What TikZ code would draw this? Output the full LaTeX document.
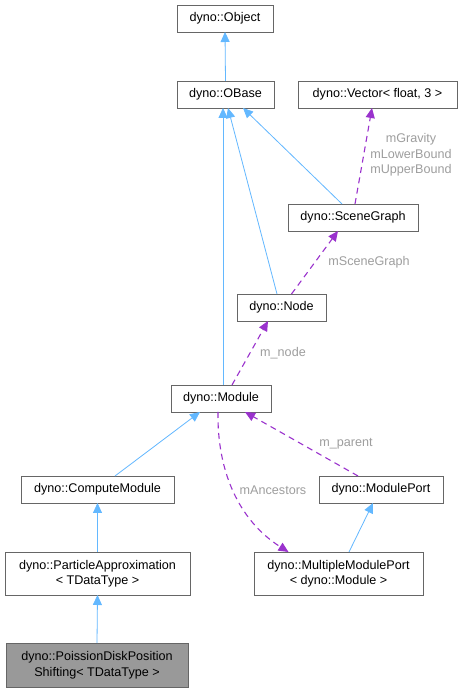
\documentclass[tikz,border=0pt]{standalone}
\usepackage{xcolor}
\usepackage{fontspec}
\setmainfont{Liberation Sans}
\usetikzlibrary{arrows.meta}

\begin{document}
\begin{tikzpicture}[x=1pt,y=1pt,
  cls/.style={draw=boxColor,line width=0.9pt,fill=white,inner sep=0pt,outer sep=0pt,align=center,font=\fontsize{12.6}{15.5}\selectfont},
  inherit/.style={draw=inheritColor,line width=0.8pt,-{Triangle[length=10pt,width=9pt]}},
  usage/.style={draw=usageColor,line width=1.1pt,dash pattern=on 6pt off 4.5pt,-{Triangle[length=10pt,width=9pt]}},
  lbl/.style={text=labelColor,inner sep=0pt,align=center,font=\fontsize{12.6}{15.5}\selectfont}]
\definecolor{fillColor}{RGB}{255,255,255}
\definecolor{boxColor}{RGB}{102,102,102}
\definecolor{grayFill}{RGB}{153,153,153}
\definecolor{inheritColor}{RGB}{99,184,255}
\definecolor{usageColor}{RGB}{154,50,205}
\definecolor{labelColor}{RGB}{158,158,158}
\path[use as bounding box,fill=fillColor] (0,0) rectangle (462,692);

\node[cls,minimum width= 96,minimum height=27] (object) at (225.0,673.5) {dyno::Object};
\node[cls,minimum width= 97,minimum height=27] (obase) at (225.5,597.5) {dyno::OBase};
\node[cls,minimum width=159,minimum height=27] (vector) at (377.5,597.5) {dyno::Vector< float, 3 >};
\node[cls,minimum width=130,minimum height=27] (scenegraph) at (353.0,474.5) {dyno::SceneGraph};
\node[cls,minimum width= 89,minimum height=27] (dnode) at (281.5,384.5) {dyno::Node};
\node[cls,minimum width=100,minimum height=27] (module) at (221.0,293.5) {dyno::Module};
\node[cls,minimum width=153,minimum height=27] (computemodule) at ( 97.5,202.5) {dyno::ComputeModule};
\node[cls,minimum width=124,minimum height=27] (moduleport) at (381.0,202.5) {dyno::ModulePort};
\node[cls,minimum width=185,minimum height=43] (particleapprox) at ( 97.5,118.5) {dyno::ParticleApproximation\\< TDataType >};
\node[cls,minimum width=169,minimum height=43] (multiport) at (338.5,118.5) {dyno::MultipleModulePort\\< dyno::Module >};
\node[cls,fill=grayFill,minimum width=182,minimum height=44] (poisson) at ( 97.0, 27.0) {dyno::PoissionDiskPosition\\Shifting< TDataType >};

\draw[inherit] (obase.north) -- (object.south);
\draw[inherit] ([xshift=2pt]module.north) -- ([xshift=-2.5pt]obase.south);
\draw[inherit] ([xshift=-4.5pt]dnode.north) -- ([xshift=2.5pt]obase.south);
\draw[inherit] ([xshift=-11pt]scenegraph.north) -- ([xshift=17.5pt]obase.south);
\draw[usage] ([xshift=2pt]scenegraph.north) -- ([xshift=-5.5pt]vector.south);
\draw[usage] ([xshift=10pt]dnode.north) -- ([xshift=-15pt]scenegraph.south);
\draw[usage] ([xshift=11pt]module.north) -- ([xshift=-13.5pt]dnode.south);
\draw[inherit] ([xshift=17.5pt]computemodule.north) -- ([xshift=-21pt]module.south);
\draw[usage] ([xshift=-23pt]moduleport.north) -- ([xshift=24pt]module.south);
\draw[usage] ([xshift=-3pt]module.south) .. controls (217,222) and (238,172) .. ([xshift=-50pt]multiport.north);
\draw[inherit] ([xshift=10.5pt]multiport.north) -- ([xshift=-8pt]moduleport.south);
\draw[inherit] (particleapprox.north) -- (computemodule.south);
\draw[inherit] (poisson.north) -- (particleapprox.south);

\node[lbl] (vectorlbl) at (411,537) {mGravity\\mLowerBound\\mUpperBound};
\node[lbl] (sglbl) at (369,430) {mSceneGraph};
\node[lbl] (nodelbl) at (283,339) {m\_node};
\node[lbl] (parentlbl) at (346,248) {m\_parent};
\node[lbl] (ancestorlbl) at (273,202) {mAncestors};
\end{tikzpicture}
\end{document}
